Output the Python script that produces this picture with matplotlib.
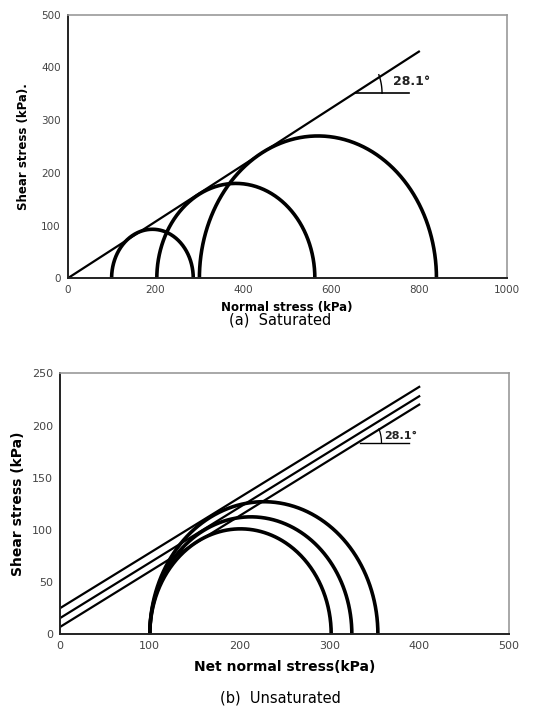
import numpy as np
import matplotlib
matplotlib.use("Agg")
import matplotlib.pyplot as plt

# (a) Saturated: Mohr circles (sigma3, sigma1)
sat_s3 = [100, 203, 300]
sat_s1 = [286, 563, 840]
sat_env_x = [0, 800]
sat_env_y = [0, 430]
sat_xticks = [0, 200, 400, 600, 800, 1000]
sat_yticks = [0, 100, 200, 300, 400, 500]

# (b) Unsaturated
uns_s3 = [100, 100, 100]
uns_s1 = [302, 325, 354]
uns_env_x = [0, 400]
uns_env_y = [[25, 237], [15.5, 228], [7, 220]]
uns_xticks = [0, 100, 200, 300, 400, 500]
uns_yticks = [0, 50, 100, 150, 200, 250]

angle_label = "28.1°"
phi = 28.1

fig = plt.figure(figsize=(5.39, 7.11), dpi=100)
W, H = 539, 711

def px_axes(l, r, t, b):
    return fig.add_axes([l / W, 1 - b / H, (r - l) / W, (b - t) / H])

def style(ax, xt, yt, size):
    ax.set_xticks(xt)
    ax.set_yticks(yt)
    ax.tick_params(length=0, labelsize=size, labelcolor="#444444", pad=5)
    for s in ["top", "right"]:
        ax.spines[s].set_color("#999999")
        ax.spines[s].set_linewidth(1.2)
    for s in ["left", "bottom"]:
        ax.spines[s].set_color("#222222")
        ax.spines[s].set_linewidth(1.4)

def mohr(ax, s3, s1):
    t = np.linspace(0, np.pi, 300)
    c = (s3 + s1) / 2
    r = (s1 - s3) / 2
    ax.plot(c + r * np.cos(t), r * np.sin(t), color="black", lw=2.6,
            solid_capstyle="butt", clip_on=False)

def angle_arc(ax, x0, y0, rad, yscale, lw):
    a = np.radians(np.linspace(0, phi, 20))
    ax.plot(x0 + rad * np.cos(a), y0 + rad * np.sin(a) * yscale, color="black", lw=lw)

# ---- (a)
ax1 = px_axes(67.7, 506.7, 14.7, 278.3)
ax1.set_xlim(0, 1000)
ax1.set_ylim(0, 500)
style(ax1, sat_xticks, sat_yticks, 7.5)
for a, b in zip(sat_s3, sat_s1):
    mohr(ax1, a, b)
ax1.plot(sat_env_x, sat_env_y, color="black", lw=1.6)
ax1.plot([654, 778], [351, 351], color="black", lw=1.2)
angle_arc(ax1, 654, 351, 62, (263.6 / 500) / (439 / 1000), 1.0)
ax1.text(742, 373, angle_label, fontsize=9, fontweight="bold", color="#222222",
         va="center", ha="left")
ax1.set_xlabel("Normal stress (kPa)", fontsize=8.5, fontweight="bold", labelpad=4)
ax1.set_ylabel("Shear stress (kPa).", fontsize=8.5, fontweight="bold", labelpad=8)
fig.text(280 / W, 1 - 320 / H, "(a)  Saturated", fontsize=10.5, ha="center", va="center")

# ---- (b)
ax2 = px_axes(60, 509, 373.3, 634.3)
ax2.set_xlim(0, 500)
ax2.set_ylim(0, 250)
style(ax2, uns_xticks, uns_yticks, 8)
for a, b in zip(uns_s3, uns_s1):
    mohr(ax2, a, b)
for ys in uns_env_y:
    ax2.plot(uns_env_x, ys, color="black", lw=1.6)
ax2.plot([334, 389], [183.5, 183.5], color="black", lw=1.0)
angle_arc(ax2, 334, 183.5, 24, (261 / 250) / (449 / 500), 0.9)
ax2.text(361, 190, angle_label, fontsize=8, fontweight="bold", color="#222222",
         va="center", ha="left")
ax2.set_xlabel("Net normal stress(kPa)", fontsize=10, fontweight="bold", labelpad=6)
ax2.set_ylabel("Shear stress (kPa)", fontsize=10, fontweight="bold", labelpad=5)
fig.text(280 / W, 1 - 698 / H, "(b)  Unsaturated", fontsize=10.5, ha="center", va="center")

fig.savefig("out.png", dpi=100)
